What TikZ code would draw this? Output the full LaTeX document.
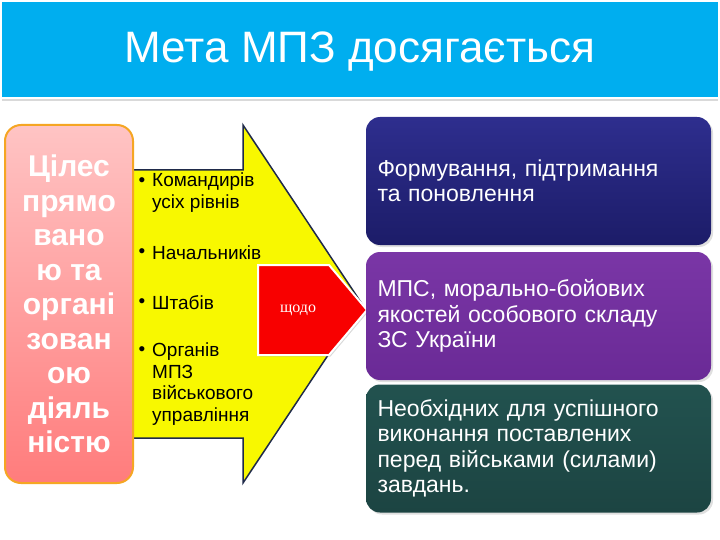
\documentclass[tikz,border=0pt]{standalone}
\usepackage{fontspec}
\setmainfont{Liberation Sans}
\newfontfamily\serifcyr{Liberation Serif}
\usetikzlibrary{shadows}

\definecolor{headblue}{HTML}{00AEEF}
\definecolor{pinktop}{HTML}{FFC4C4}
\definecolor{pinkbot}{HTML}{FF7C7C}
\definecolor{pinkline}{HTML}{F5A623}
\definecolor{arrowyellow}{HTML}{F8F800}
\definecolor{arrowline}{HTML}{1F2A4A}
\definecolor{qred}{HTML}{F80000}
\definecolor{navytop}{HTML}{2E2E8E}
\definecolor{navybot}{HTML}{1C1C68}
\definecolor{purptop}{HTML}{7A36A6}
\definecolor{purpbot}{HTML}{6A2A96}
\definecolor{tealtop}{HTML}{22524F}
\definecolor{tealbot}{HTML}{1C4442}

\tikzset{
  aimbox/.style={rounded corners=16pt, draw=pinkline, line width=2pt,
    top color=pinktop, bottom color=pinkbot, minimum width=128pt,
    minimum height=358pt, text=white, align=center,
    font=\bfseries\fontsize{30}{34.5}\selectfont},
  itemtxt/.style={anchor=west, align=left, inner sep=0pt,
    font=\fontsize{19}{21.5}\selectfont},
  dot/.style={inner sep=0pt, font=\fontsize{19}{21.5}\selectfont},
  goalbox/.style={rounded corners=14pt, minimum width=345pt,
    minimum height=128pt, text width=322pt, align=left, text=white,
    font=\fontsize{23}{25.5}\selectfont,
    drop shadow={opacity=0.25, shadow xshift=2pt, shadow yshift=-2pt}}
}

\begin{document}
\begin{tikzpicture}[x=1pt,y=-1pt]
  \useasboundingbox (0,0) rectangle (720,540);
  % header
  \fill[headblue] (2,2) rectangle (718,97);
  \draw[black!15, line width=2pt] (2,100) -- (718,100);
  \node[text=white, font=\fontsize{44}{50}\selectfont] (title) at (360,52)
    {Мета МПЗ досягається};

  % yellow arrow
  \draw[arrowline, fill=arrowyellow, line width=1.5pt]
    (128,170) -- (243,170) -- (243,125) -- (362,304)
    -- (243,483) -- (243,438) -- (128,438) -- cycle;

  % left box
  \node[aimbox] (aim) at (69,304)
    {Цілес\\прямо\\вано\\ю та\\органі\\зован\\ою\\діяль\\ністю};

  % items
  \node[dot] (d1) at (142,182) {•};
  \node[itemtxt] (kom) at (152,192.5) {Командирів\\усіх рівнів};
  \node[dot] (d2) at (142,253) {•};
  \node[itemtxt] (nach) at (152,253) {Начальників};
  \node[dot] (d3) at (142,303) {•};
  \node[itemtxt] (shtab) at (152,303) {Штабів};
  \node[dot] (d4) at (142,351) {•};
  \node[itemtxt] (org) at (152,384)
    {Органів\\МПЗ\\військового\\управління};

  % red pentagon
  \draw[white, line width=2pt, fill=qred,
    drop shadow={opacity=0.3, shadow xshift=1.5pt, shadow yshift=-1.5pt}]
    (258,265) -- (329,265) -- (367,310) -- (329,355) -- (258,355) -- cycle;
  \node[text=white, font=\serifcyr\fontsize{16}{18}\selectfont] (shodo)
    at (298,310) {щодо};

  % right boxes
  \node[goalbox, top color=navytop, bottom color=navybot] (form)
    at (538.5,181) {Формування, підтримання\\та поновлення};
  \node[goalbox, top color=purptop, bottom color=purpbot] (mps)
    at (538.5,316) {МПС, морально-бойових\\якостей особового складу\\ЗС України};
  \node[goalbox, top color=tealtop, bottom color=tealbot] (need)
    at (538.5,448.5) {Необхідних для успішного\\виконання поставлених\\перед військами (силами)\\завдань.};
\end{tikzpicture}
\end{document}
